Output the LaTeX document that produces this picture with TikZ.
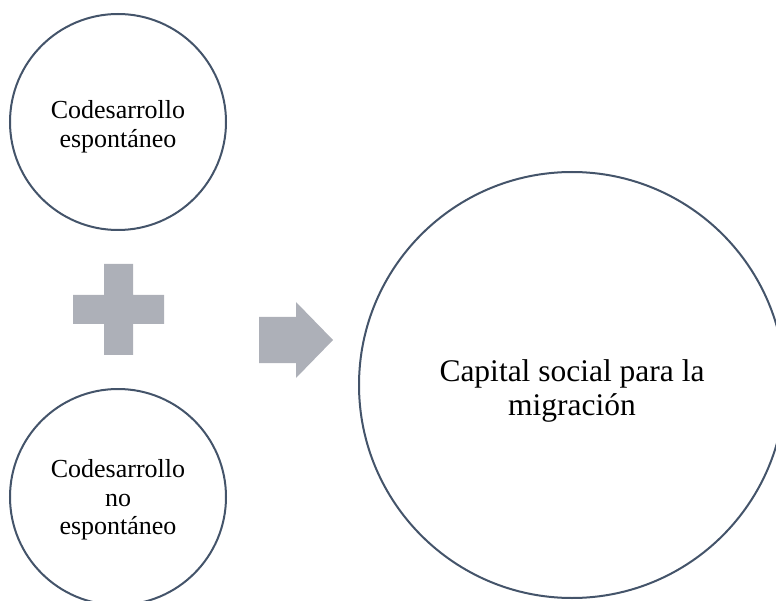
\documentclass[tikz,border=0pt]{standalone}
\usepackage{fontspec}
\setmainfont{Liberation Serif}
\usepackage{tikz}
\usetikzlibrary{positioning}
\definecolor{ringblue}{RGB}{68,84,106}
\definecolor{signgray}{RGB}{173,176,184}

\begin{document}
\begin{tikzpicture}[
    x=1pt, y=-1pt,
    ring/.style={
		circle,
		draw=ringblue,
		line width=2pt,
		align=center,
		inner sep=0pt,
		fill=white
	},
	small/.style={
		ring,
		minimum size=216pt,
		font=\fontsize{26}{28.5}\selectfont
	},
	big/.style={
		ring,
		minimum size=426pt,
		font=\fontsize{31.5}{34}\selectfont
	},
	sign/.style={
		fill=signgray
	}
  ]
  \useasboundingbox (0,0) rectangle (776,601);

    % the two starting circles
  \node [small] (espontaneo) at (118,122) {\rule{0pt}{28pt}Codesarrollo\\espontáneo};
  \node [small] (noespontaneo) at (118,497) {\rule{0pt}{24pt}Codesarrollo\\no\\espontáneo};

    % the result
  \node [big] (capital) at (572,385) {\rule{0pt}{34pt}Capital social para la\\migración};

    % plus and arrow
  \fill [sign] (104,264) -- (133,264) -- (133,295) -- (164,295) -- (164,324) -- (133,324)
     -- (133,355) -- (104,355) -- (104,324) -- (73,324) -- (73,295) -- (104,295) -- cycle;
  \fill [sign] (259,317) -- (296,317) -- (296,302) -- (333,340) -- (296,378) -- (296,363)
     -- (259,363) -- cycle;

\end{tikzpicture}
\end{document}
